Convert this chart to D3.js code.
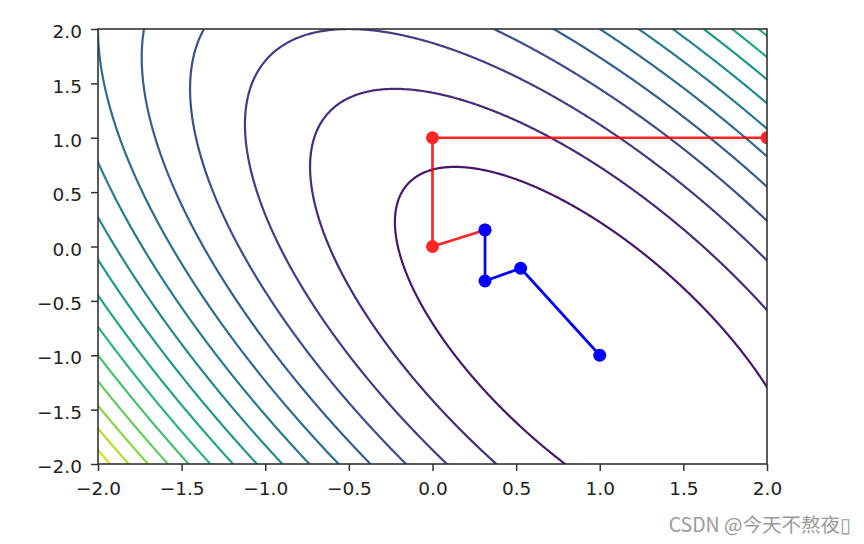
<!DOCTYPE html>
<html>
<head>
<meta charset="utf-8">
<script src="https://cdn.jsdelivr.net/npm/d3@7"></script>
<style>
  html, body { margin: 0; padding: 0; background: #ffffff; }
  svg { display: block; }
</style>
</head>
<body>
<svg id="chart" width="864" height="544"></svg>
<script>
// ---------------- data ----------------
// surface: f(x, y) = c0*x^2 + c1*x*y + c2*y^2 + c3*x + c4*y
const surfaceCoefs = [1, 1, 0.5, -1, 0];
const contourLevels = [0.25, 1.0, 1.75, 2.5, 3.25, 4.0, 4.75, 5.5, 6.25, 7.0, 7.75, 8.5, 9.25, 10.0, 10.75, 11.5];
const colorRange = [-0.5, 12.25];
const xTickValues = [-2.0, -1.5, -1.0, -0.5, 0.0, 0.5, 1.0, 1.5, 2.0];
const yTickValues = [-2.0, -1.5, -1.0, -0.5, 0.0, 0.5, 1.0, 1.5, 2.0];
const redPathX = [2.0, 0.0, 0.0, 0.314];
const redPathY = [1.0, 1.0, 0.0, 0.152];
const bluePathX = [0.314, 0.314, 0.527, 1.0];
const bluePathY = [0.152, -0.317, -0.2, -1.0];
const watermark = "CSDN @今天不熬夜\u25AF";

// ---------------- layout ----------------
const W = 864, H = 544;
const plot = { left: 98, right: 767, top: 29, bottom: 464 };

const svg = d3.select("#chart");
const x = d3.scaleLinear().domain([-2, 2]).range([plot.left, plot.right]);
const y = d3.scaleLinear().domain([-2, 2]).range([plot.bottom, plot.top]);

svg.append("defs").append("clipPath").attr("id", "plotclip")
  .append("rect")
  .attr("x", plot.left).attr("y", plot.top)
  .attr("width", plot.right - plot.left).attr("height", plot.bottom - plot.top);

// ---------------- contour grid ----------------
const f = (px, py) => surfaceCoefs[0] * px * px + surfaceCoefs[1] * px * py +
  surfaceCoefs[2] * py * py + surfaceCoefs[3] * px + surfaceCoefs[4] * py;

const g0 = -2.1, gStep = 0.01, gN = 421;
const values = new Float64Array(gN * gN);
for (let j = 0; j < gN; j++) {
  for (let i = 0; i < gN; i++) {
    values[j * gN + i] = f(g0 + i * gStep, g0 + j * gStep);
  }
}
const contours = d3.contours().size([gN, gN]).thresholds(contourLevels)(values);

const proj = d3.geoTransform({
  point: function (cx, cy) {
    this.stream.point(x(g0 + (cx - 0.5) * gStep), y(g0 + (cy - 0.5) * gStep));
  }
});
const geoPath = d3.geoPath(proj);
const color = d3.scaleSequential(d3.interpolateViridis).domain(colorRange);

const plotG = svg.append("g").attr("clip-path", "url(#plotclip)");

plotG.append("g").selectAll("path")
  .data(contours)
  .join("path")
  .attr("d", geoPath)
  .attr("fill", "none")
  .attr("stroke", d => color(d.value))
  .attr("stroke-width", 2.2)
  .attr("stroke-linejoin", "round");

// ---------------- paths ----------------
const line = d3.line().x(d => x(d[0])).y(d => y(d[1]));
function drawPath(xs, ys, col, op) {
  const pts = xs.map((v, i) => [v, ys[i]]);
  const g = plotG.append("g").attr("opacity", op);
  g.append("path").attr("d", line(pts))
    .attr("fill", "none").attr("stroke", col).attr("stroke-width", 2.7)
    .attr("stroke-linejoin", "round");
  g.selectAll("circle").data(pts).join("circle")
    .attr("cx", d => x(d[0])).attr("cy", d => y(d[1]))
    .attr("r", 6.5).attr("fill", col);
}
drawPath(redPathX, redPathY, "#ff0000", 0.85);
drawPath(bluePathX, bluePathY, "#0000ff", 1);

// ---------------- axes ----------------
const fmt = d3.format(".1f");
const axisColor = "#333333";
const fontFamily = "'DejaVu Sans', sans-serif";

const xAxis = svg.append("g")
  .attr("transform", `translate(0,${plot.bottom})`)
  .call(d3.axisBottom(x).tickValues(xTickValues).tickFormat(fmt).tickSize(7).tickSizeOuter(0));
xAxis.select(".domain").remove();
xAxis.selectAll(".tick line").attr("stroke", axisColor).attr("stroke-width", 1.5);
xAxis.selectAll(".tick text")
  .attr("y", 31).attr("dy", null)
  .attr("fill", "#222222")
  .style("font-family", fontFamily).style("font-size", "18.5px");

const yAxis = svg.append("g")
  .attr("transform", `translate(${plot.left},0)`)
  .call(d3.axisLeft(y).tickValues(yTickValues).tickFormat(fmt).tickSize(7).tickSizeOuter(0));
yAxis.select(".domain").remove();
yAxis.selectAll(".tick line").attr("stroke", axisColor).attr("stroke-width", 1.5);
yAxis.selectAll(".tick text")
  .attr("x", -16).attr("dy", null).attr("y", 8.7)
  .attr("fill", "#222222")
  .style("font-family", fontFamily).style("font-size", "18.5px");

// spines
svg.append("rect")
  .attr("x", plot.left).attr("y", plot.top)
  .attr("width", plot.right - plot.left).attr("height", plot.bottom - plot.top)
  .attr("fill", "none").attr("stroke", axisColor).attr("stroke-width", 1.6);

// watermark
svg.append("text")
  .attr("x", 851).attr("y", 532)
  .attr("text-anchor", "end")
  .attr("fill", "#9a9a9a")
  .style("font-family", "'Noto Sans CJK SC', 'Noto Sans', sans-serif")
  .style("font-size", "19.5px")
  .text(watermark);
</script>
</body>
</html>
